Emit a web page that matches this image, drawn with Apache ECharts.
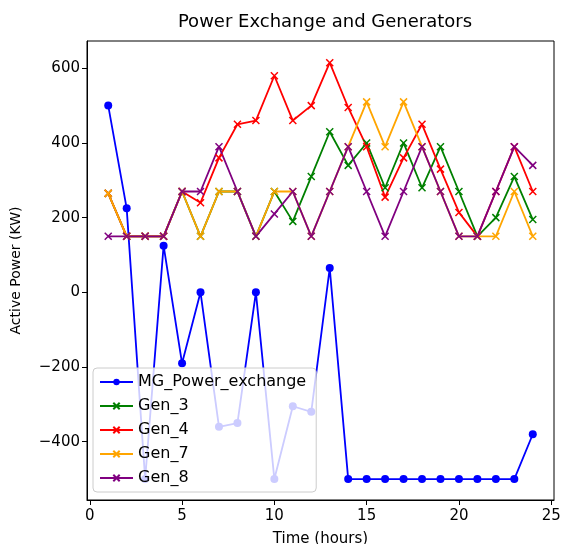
<!DOCTYPE html>
<html>
<head>
<meta charset="utf-8">
<script src="https://cdn.jsdelivr.net/npm/echarts@6/dist/echarts.min.js"></script>
<style>
  html, body { margin: 0; padding: 0; background: #fff; }
  #chart { width: 561px; height: 544px; }
</style>
</head>
<body>
<div id="chart"></div>
<script>
// data
const hours = [1, 2, 3, 4, 5, 6, 7, 8, 9, 10, 11, 12, 13, 14, 15, 16, 17, 18, 19, 20, 21, 22, 23, 24];
const mgExchange = [500, 225, -500, 125, -190, 0, -360, -350, 0, -500, -305, -320, 65, -500, -500, -500, -500, -500, -500, -500, -500, -500, -500, -380];
const gen3 = [265, 150, 150, 150, 270, 150, 270, 270, 150, 270, 190, 310, 430, 340, 400, 280, 400, 280, 390, 270, 150, 200, 310, 195];
const gen4 = [265, 150, 150, 150, 270, 240, 360, 450, 460, 580, 460, 500, 615, 495, 390, 255, 360, 450, 330, 214, 150, 270, 390, 270];
const gen7 = [265, 150, 150, 150, 270, 150, 270, 270, 150, 270, 270, 150, 270, 390, 510, 390, 510, 390, 270, 150, 150, 150, 270, 150];
const gen8 = [150, 150, 150, 150, 270, 270, 390, 270, 150, 210, 270, 150, 270, 390, 270, 150, 270, 390, 270, 150, 150, 270, 390, 340];
const xTicks = [0, 5, 10, 15, 20, 25];
const yTicks = [-400, -200, 0, 200, 400, 600];

const font = "DejaVu Sans";
const cross = "path://M0,0L10,10M10,0L0,10";

function pairs(vals) {
  return hours.map((h, i) => [h, vals[i]]);
}

function genSeries(name, vals, color) {
  return {
    name: name,
    type: "line",
    data: pairs(vals),
    symbol: cross,
    symbolSize: 7,
    showSymbol: true,
    lineStyle: { color: color, width: 1.8 },
    itemStyle: { color: color, borderColor: color, borderWidth: 1.5 },
    emphasis: { disabled: true },
  };
}

let myChart = echarts.init(document.getElementById("chart"));

let option = {
  backgroundColor: "#fff",
  animation: false,
  title: {
    text: "Power Exchange and Generators",
    left: 320,
    top: 8,
    textAlign: "center",
    textStyle: { fontFamily: font, fontSize: 18, fontWeight: "normal", color: "#000" },
  },
  grid: {
    left: 87,
    right: 7,
    top: 41,
    bottom: 44,
    outerBoundsMode: "none",
    containLabel: false,
    show: true,
    borderColor: "#000",
    borderWidth: 1,
  },
  legend: {
    orient: "vertical",
    left: 93,
    top: 368,
    itemWidth: 33,
    itemHeight: 8,
    itemGap: 8,
    padding: [6, 10, 6, 6],
    backgroundColor: "rgba(255,255,255,0.8)",
    borderColor: "#ccc",
    borderWidth: 1,
    borderRadius: 4,
    textStyle: { fontFamily: font, fontSize: 16, color: "#000" },
    data: ["MG_Power_exchange", "Gen_3", "Gen_4", "Gen_7", "Gen_8"],
  },
  xAxis: {
    type: "value",
    min: -0.15,
    max: 25.15,
    name: "Time (hours)",
    nameLocation: "middle",
    nameGap: 32,
    nameTextStyle: { fontFamily: font, fontSize: 15, color: "#000" },
    splitLine: { show: false },
    axisLine: { show: true, onZero: false, lineStyle: { color: "#000" } },
    axisTick: { show: true, customValues: xTicks, length: 5, lineStyle: { color: "#000" } },
    axisLabel: {
      customValues: xTicks,
      fontFamily: font,
      fontSize: 15,
      color: "#000",
      margin: 9,
    },
  },
  yAxis: {
    type: "value",
    min: -556,
    max: 673,
    name: "Active Power (KW)",
    nameLocation: "middle",
    nameGap: 64,
    nameTextStyle: { fontFamily: font, fontSize: 14, color: "#000" },
    splitLine: { show: false },
    axisLine: { show: true, onZero: false, lineStyle: { color: "#000" } },
    axisTick: { show: true, customValues: yTicks, length: 5, lineStyle: { color: "#000" } },
    axisLabel: {
      customValues: yTicks,
      fontFamily: font,
      fontSize: 15,
      color: "#000",
      margin: 7,
      formatter: (v) => String(v).replace("-", "\u2212"),
    },
  },
  series: [
    {
      name: "MG_Power_exchange",
      type: "line",
      data: pairs(mgExchange),
      symbol: "circle",
      symbolSize: 8,
      lineStyle: { color: "#0000ff", width: 1.8 },
      itemStyle: { color: "#0000ff" },
      emphasis: { disabled: true },
    },
    genSeries("Gen_3", gen3, "#008000"),
    genSeries("Gen_4", gen4, "#ff0000"),
    genSeries("Gen_7", gen7, "#ffa500"),
    genSeries("Gen_8", gen8, "#800080"),
  ],
};

myChart.setOption(option);
</script>
</body>
</html>
